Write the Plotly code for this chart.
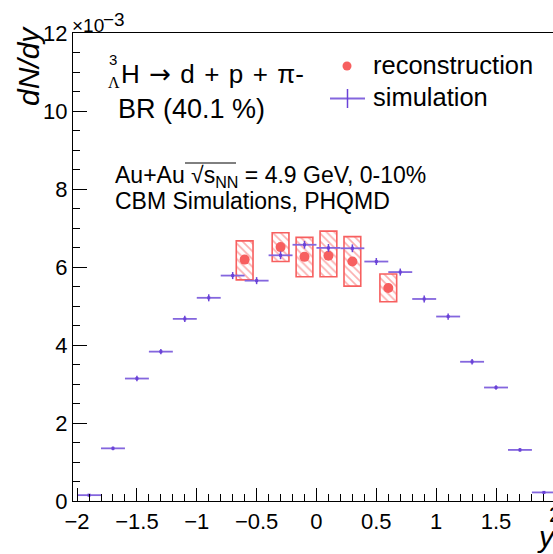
import plotly.graph_objects as go

# ---------------- data (dN/dy in units of 10^-3) ----------------
sim_y = [-1.9, -1.7, -1.5, -1.3, -1.1, -0.9, -0.7, -0.5, -0.3, -0.1,
         0.1, 0.3, 0.5, 0.7, 0.9, 1.1, 1.3, 1.5, 1.7, 1.9]
sim_dndy = [0.15, 1.35, 3.14, 3.83, 4.67, 5.21, 5.78, 5.65, 6.30, 6.57,
            6.49, 6.48, 6.14, 5.87, 5.18, 4.73, 3.57, 2.91, 1.31, 0.22]
sim_err = [0.03, 0.05, 0.07, 0.07, 0.08, 0.09, 0.09, 0.09, 0.10, 0.10,
           0.10, 0.10, 0.09, 0.09, 0.09, 0.08, 0.07, 0.06, 0.05, 0.03]
sim_bin_half = 0.1

rec_y = [-0.6, -0.3, -0.1, 0.1, 0.3, 0.6]
rec_dndy = [6.19, 6.51, 6.26, 6.29, 6.14, 5.46]
rec_sys_up = [0.48, 0.37, 0.50, 0.63, 0.64, 0.36]
rec_sys_down = [0.52, 0.37, 0.51, 0.54, 0.63, 0.35]
rec_box_width = 0.14

x_range = [-2.034, 1.976]
y_range = [0, 12]

# ---------------- styling ----------------
RED = "#f75f5f"
PURPLE = "#6a42d8"
PURPLE_LIGHT = "#8466de"
FONT = "Liberation Sans, Arial, sans-serif"

W, H = 553, 554
ML, MR, MT, MB = 73, 0, 33, 53
PW = W - ML - MR
PH = H - MT - MB


def px(x):
    return (x - ML) / PW


def py(y):
    return (H - MB - y) / PH


fig = go.Figure()

# systematic boxes (hatched)
fig.add_trace(go.Bar(
    x=rec_y,
    y=[u + d for u, d in zip(rec_sys_up, rec_sys_down)],
    base=[v - d for v, d in zip(rec_dndy, rec_sys_down)],
    width=rec_box_width,
    marker=dict(color="rgba(255,255,255,0)",
                line=dict(color=RED, width=1.6),
                pattern=dict(shape="\\", fgcolor=RED, size=5.5, solidity=0.3,
                             fillmode="overlay")),
    hoverinfo="skip",
))

# reconstruction points
fig.add_trace(go.Scatter(
    x=rec_y, y=rec_dndy, mode="markers",
    marker=dict(color=RED, size=10, line=dict(width=0)),
))

# simulation crosses
fig.add_trace(go.Scatter(
    x=sim_y, y=sim_dndy, mode="markers",
    marker=dict(color=PURPLE, size=3, symbol="square", line=dict(width=0)),
    error_x=dict(type="constant", value=sim_bin_half, color=PURPLE_LIGHT,
                 thickness=1.8, width=0),
    error_y=dict(type="data", array=sim_err, color=PURPLE,
                 thickness=1.5, width=0),
))

axis_common = dict(
    showline=True, linecolor="black", linewidth=1.2,
    ticks="inside", tickcolor="black", tickwidth=1,
    showgrid=False, zeroline=False,
    tickfont=dict(family=FONT, size=22, color="black"),
)

fig.update_xaxes(range=x_range, mirror=True, ticklen=13, dtick=0.5, tick0=0,
                 minor=dict(ticks="inside", ticklen=7, dtick=0.1, tick0=0,
                            tickcolor="black", tickwidth=1),
                 **axis_common)
fig.update_yaxes(range=y_range, mirror=False, ticklen=14, dtick=2, tick0=0,
                 minor=dict(ticks="inside", ticklen=7, dtick=0.5, tick0=0,
                            tickcolor="black", tickwidth=1),
                 **axis_common)

annotations = []


def txt(text, left, baseline, size, family=FONT, italic=False, anchor="left", **kw):
    annotations.append(dict(
        text=text, xref="paper", yref="paper",
        x=px(left), y=py(baseline - 0.35 * size),
        xanchor=anchor, yanchor="middle", showarrow=False,
        font=dict(family=family, size=size, color="black",
                  style="italic" if italic else "normal"),
        **kw,
    ))


HS = "\u200a"  # hair space, widens the gaps like the original typesetting

# decay label
txt("3", 107, 65, 15)
txt("Λ", 106, 88, 16, family="Liberation Serif, Times New Roman, serif")
txt("H " + HS + "<span style='font-family:DejaVu Sans'>→</span>" + HS + " d "
    + HS + "+" + HS + " p " + HS + "+" + HS + " π-", 119, 83.5, 26)
txt("BR (40.1 %)", 116, 118.5, 27)
txt("Au+Au √s<sub>NN</sub> = 4.9 GeV, 0-10%", 113, 185, 23)
txt("CBM Simulations, PHQMD", 113, 209, 23)

# legend
txt("reconstruction", 371, 74, 25.5)
txt("simulation", 371, 106, 25.5)

# axis extras
txt("×10", 70, 32.5, 19)
txt("−3", 101, 26, 19)
txt("2", 555, 522.3, 22, anchor="center")
txt("y", 546, 547, 30, italic=True, anchor="center")

annotations.append(dict(
    text="dN/dy", xref="paper", yref="paper",
    x=px(28.5), y=py(66.5), xanchor="center", yanchor="middle",
    textangle=-90, showarrow=False,
    font=dict(family=FONT, size=30, color="black", style="italic"),
))

shapes = [
    # legend marker: red dot
    dict(type="circle", xref="paper", yref="paper",
         x0=px(342.5), x1=px(351.5), y0=py(70.5), y1=py(61.5),
         fillcolor=RED, line=dict(width=0)),
    # legend marker: purple cross
    dict(type="line", xref="paper", yref="paper",
         x0=px(330), x1=px(365), y0=py(98.5), y1=py(98.5),
         line=dict(color=PURPLE_LIGHT, width=1.8)),
    dict(type="line", xref="paper", yref="paper",
         x0=px(347.5), x1=px(347.5), y0=py(89), y1=py(108),
         line=dict(color=PURPLE, width=1.5)),
    # overline of sqrt
    dict(type="line", xref="paper", yref="paper",
         x0=px(185), x1=px(236), y0=py(163), y1=py(163),
         line=dict(color="black", width=1)),
]

fig.update_layout(
    width=W, height=H,
    margin=dict(l=ML, r=MR, t=MT, b=MB, pad=0),
    plot_bgcolor="white", paper_bgcolor="white",
    showlegend=False,
    annotations=annotations, shapes=shapes,
    font=dict(family=FONT),
)

fig.write_html("out.html")
